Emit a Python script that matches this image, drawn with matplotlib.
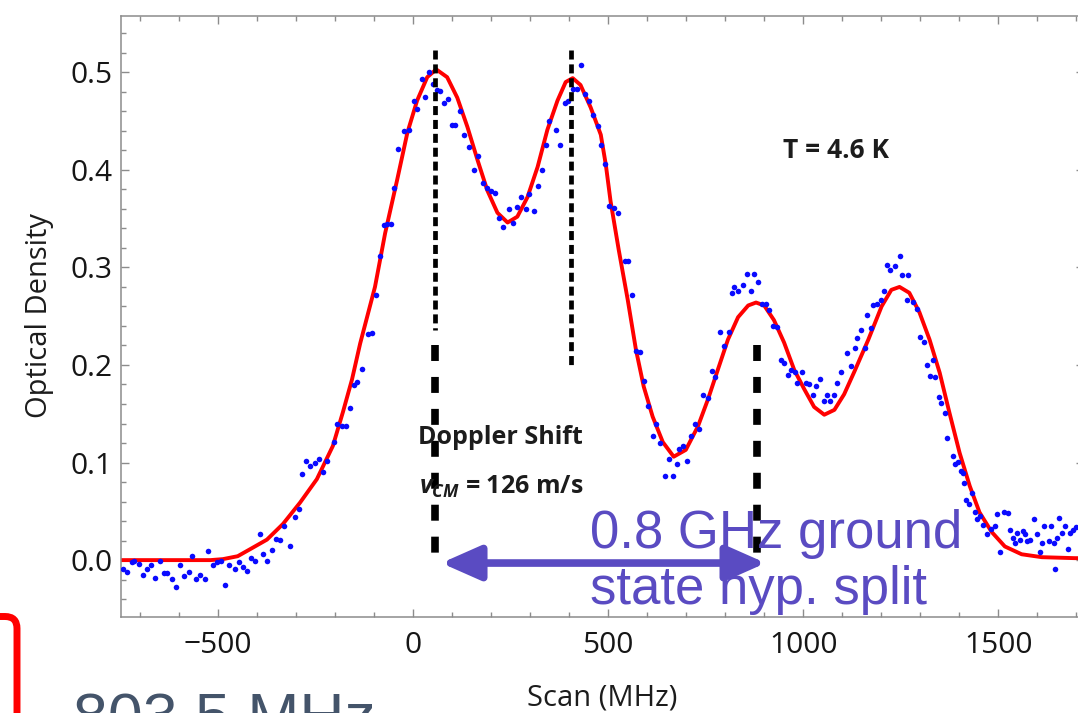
import matplotlib
matplotlib.use("Agg")
import matplotlib.pyplot as plt
from matplotlib.patches import FancyBboxPatch
from matplotlib.transforms import IdentityTransform
from matplotlib.ticker import MultipleLocator, FormatStrFormatter

plt.rcParams['font.family'] = ['Open Sans', 'DejaVu Sans']
plt.rcParams['mathtext.fontset'] = 'custom'
plt.rcParams['mathtext.it'] = 'Open Sans:italic:bold'
plt.rcParams['mathtext.rm'] = 'Open Sans:bold'
plt.rcParams['lines.scale_dashes'] = False

# ---- measured optical density vs. laser scan ----
scan_mhz = [
    -744, -734, -721, -715, -704, -693, -683, -673, -662, -650, -640, -630, -619, -608,
    -599, -587, -576, -567, -556, -546, -535, -525, -514, -503, -493, -482, -473, -458,
    -446, -437, -426, -416, -405, -394, -384, -374, -363, -352, -341, -332, -315, -304,
    -294, -284, -274, -264, -251, -241, -232, -221, -204, -196, -183, -173, -163,
    -153, -143, -132, -115, -106, -95, -85, -76, -66, -57, -48, -38, -23, -12, 1, 9,
    22, 31, 41, 52, 62, 69, 78, 88, 99, 108, 121, 131, 142, 155, 167, 179, 189, 199,
    210, 221, 230, 246, 256, 266, 277, 289, 298, 309, 319, 330, 340, 349, 367, 377,
    388, 398, 410, 420, 430, 441, 452, 461, 473, 482, 491, 503, 514, 524,
    544, 552, 561, 572, 582, 592, 603, 615, 623, 633, 646, 657, 667, 676, 682, 692,
    702, 713, 723, 734, 744, 755, 766, 774, 787, 797, 809, 817, 823, 834, 845, 856,
    866, 874, 885, 894, 904, 913, 922, 934, 943, 950, 960, 969, 979, 985, 997, 1007,
    1016, 1026, 1033, 1044, 1054, 1061, 1069, 1079, 1086, 1097,
    1112, 1122, 1133, 1138, 1148, 1159, 1163, 1174, 1180, 1189, 1199, 1206, 1215, 1223,
    1236, 1247, 1253, 1266, 1270, 1281, 1293, 1300, 1310, 1317, 1326, 1332, 1338, 1347,
    1353, 1364, 1370, 1384, 1390, 1396, 1404, 1409, 1413, 1418, 1424, 1432, 1441, 1445,
    1454, 1462, 1471, 1481, 1492, 1498, 1505, 1514, 1526, 1531, 1538, 1544, 1548, 1556,
    1563, 1569, 1575, 1582, 1591, 1599, 1606, 1612, 1618, 1629, 1635, 1642, 1646, 1650,
    1657, 1663, 1672, 1678, 1685, 1693, 1700,
]
optical_density = [
    -0.009, -0.012, -0.002, -0.001, -0.004, -0.015, -0.009, -0.005, -0.018, -0.001, -0.013, -0.013, -0.019, -0.028,
    -0.005, -0.016, -0.012, 0.004, -0.019, -0.015, -0.019, 0.009, -0.005, -0.002, -0.001, -0.026, -0.005, -0.009,
    -0.002, -0.007, -0.011, 0.002, -0.001, 0.027, 0.006, -0.001, 0.010, 0.022, 0.021, 0.035, 0.014, 0.044,
    0.052, 0.088, 0.102, 0.096, 0.100, 0.104, 0.090, 0.102, 0.121, 0.139, 0.137, 0.137, 0.156,
    0.179, 0.183, 0.196, 0.232, 0.233, 0.272, 0.312, 0.343, 0.345, 0.345, 0.381, 0.421, 0.440, 0.441, 0.471, 0.462,
    0.493, 0.475, 0.500, 0.488, 0.482, 0.481, 0.469, 0.473, 0.446, 0.446, 0.460, 0.436, 0.423, 0.400, 0.414, 0.387, 0.381, 0.378,
    0.376, 0.351, 0.341, 0.360, 0.346, 0.362, 0.372, 0.360, 0.375, 0.358, 0.383, 0.400, 0.425, 0.450, 0.441, 0.425,
    0.469, 0.471, 0.483, 0.483, 0.507, 0.478, 0.471, 0.456, 0.445, 0.425, 0.406, 0.363, 0.361, 0.356,
    0.307, 0.307, 0.272, 0.214, 0.213, 0.184, 0.158, 0.127, 0.139, 0.120, 0.086, 0.104, 0.086, 0.098, 0.114, 0.117,
    0.102, 0.127, 0.139, 0.134, 0.169, 0.166, 0.194, 0.188, 0.234, 0.219, 0.234, 0.274, 0.280, 0.276, 0.282, 0.293,
    0.276, 0.293, 0.285, 0.263, 0.263, 0.256, 0.240, 0.239, 0.205, 0.202, 0.190, 0.195, 0.193, 0.182, 0.193, 0.182,
    0.181, 0.169, 0.178, 0.186, 0.163, 0.169, 0.163, 0.169, 0.182, 0.193,
    0.212, 0.199, 0.217, 0.228, 0.236, 0.217, 0.251, 0.238, 0.261, 0.263, 0.267, 0.276, 0.302, 0.297,
    0.301, 0.312, 0.292, 0.267, 0.292, 0.265, 0.257, 0.229, 0.224, 0.200, 0.189, 0.205, 0.188, 0.167,
    0.161, 0.151, 0.125, 0.107, 0.099, 0.101, 0.091, 0.089, 0.079, 0.062, 0.058, 0.069, 0.049, 0.042,
    0.045, 0.036, 0.027, 0.032, 0.035, 0.047, 0.008, 0.049, 0.048, 0.031, 0.023, 0.018, 0.028, 0.021,
    0.030, 0.027, 0.020, 0.021, 0.042, 0.027, 0.008, 0.018, 0.035, 0.020, 0.035, 0.018, -0.009, 0.023,
    0.043, 0.028, 0.035, 0.011, 0.028, 0.031, 0.034,
]

# ---- fitted spectrum ----
fit_mhz = [
    -750, -600, -520, -488, -450, -419, -375, -334, -290, -247,
    -206, -180, -157, -136, -98, -72, -41, -15, 10, 36,
    59, 87, 113, 139, 165, 190, 216, 242, 267, 293,
    319, 344, 370, 391, 409, 429, 455, 481, 494, 506,
    527, 550, 571, 591, 614, 640, 668, 699, 730, 756,
    781, 807, 833, 859, 879, 900, 925, 951, 977, 1003,
    1028, 1054, 1080, 1105, 1131, 1167, 1201, 1226, 1247, 1272,
    1298, 1324, 1350, 1375, 1401, 1427, 1452, 1483, 1517, 1560,
    1612, 1697, 1750,
]
fit_od = [
    0, 0, 0, 0.001, 0.004, 0.011, 0.021, 0.037, 0.059, 0.083,
    0.117, 0.152, 0.185, 0.222, 0.280, 0.335, 0.390, 0.438, 0.471, 0.495,
    0.503, 0.495, 0.474, 0.444, 0.410, 0.379, 0.356, 0.346, 0.352, 0.372,
    0.403, 0.441, 0.471, 0.490, 0.494, 0.487, 0.464, 0.436, 0.405, 0.368,
    0.318, 0.267, 0.216, 0.178, 0.147, 0.121, 0.106, 0.113, 0.137, 0.165,
    0.195, 0.226, 0.249, 0.261, 0.264, 0.261, 0.246, 0.223, 0.195, 0.175,
    0.157, 0.149, 0.154, 0.170, 0.193, 0.226, 0.260, 0.277, 0.280, 0.274,
    0.254, 0.226, 0.192, 0.151, 0.110, 0.076, 0.049, 0.029, 0.014, 0.006,
    0.003, 0.002, 0.002,
]

# peak markers: (position, top, bottom)
peak_lines = [(56, 0.523, 0.236), (405, 0.523, 0.200)]
shift_lines = [(56, 0.220, 0.007), (882, 0.220, 0.007)]
split_arrow = (72, 904, -0.003)

W, H = 1078, 713
purple = '#5a4bc2'
frame_gray = '#8c8c8c'

fig = plt.figure(figsize=(W / 100, H / 100), dpi=100)
ax = fig.add_axes([120.7 / W, (H - 616.7) / H, (1084 - 120.7) / W, (616.7 - 15.7) / H])
ax.set_xlim(-750, 1720)
ax.set_ylim(-0.058, 0.558)

ax.plot(fit_mhz, fit_od, color='#ff0000', lw=2.8, zorder=2, solid_joinstyle='round')
ax.plot(scan_mhz, optical_density, 'o', color='#0a0aff', ms=4.0, mec='none', zorder=3)

for x, y0, y1 in peak_lines:
    ax.plot([x, x], [y0, y1], color='black', lw=3.4, dashes=(6.5, 3.5), zorder=5,
            dash_capstyle='butt')
for x, y0, y1 in shift_lines:
    ax.plot([x, x], [y0, y1], color='black', lw=5.5, dashes=(11.5, 11.5), zorder=5,
            dash_capstyle='butt')

x0, x1, ya = split_arrow
ax.annotate('', xy=(x0, ya), xytext=(x1, ya),
            arrowprops=dict(arrowstyle='<|-|>,head_length=0.95,head_width=0.42',
                            color=purple, lw=5.5, mutation_scale=25,
                            shrinkA=0, shrinkB=0), zorder=6)

# frame and ticks
for side in ax.spines.values():
    side.set_color(frame_gray)
    side.set_linewidth(1.1)
ax.xaxis.set_major_locator(MultipleLocator(500))
ax.xaxis.set_minor_locator(MultipleLocator(100))
ax.yaxis.set_major_locator(MultipleLocator(0.1))
ax.yaxis.set_minor_locator(MultipleLocator(0.02))
ax.yaxis.set_major_formatter(FormatStrFormatter('%.1f'))
ax.tick_params(which='both', direction='in', top=True, right=True,
               color=frame_gray, width=1.0, labelsize=21.5, labelcolor='#161616')
ax.tick_params(which='major', length=5.5)
ax.tick_params(which='minor', length=3.3)
ax.tick_params(axis='y', pad=6)
ax.tick_params(axis='x', pad=10)

txt = '#1c1c1c'
fig.text(40 / W, 1 - 315 / H, 'Optical Density', rotation=90, ha='center', va='center',
         fontsize=21, color=txt)
fig.text(602 / W, 1 - 698 / H, 'Scan (MHz)', ha='center', va='center', fontsize=21, color=txt)
fig.text(836 / W, 1 - 150 / H, 'T = 4.6 K', ha='center', va='center', fontsize=19,
         fontweight='bold', color=txt)
fig.text(500 / W, 1 - 438 / H, 'Doppler Shift', ha='center', va='center', fontsize=18,
         fontweight='bold', color=txt)
fig.text(501 / W, 1 - 487 / H, r'$\mathit{v}_{\mathit{CM}}$ = 126 m/s', ha='center',
         va='center', fontsize=18, fontweight='bold', color=txt)

fig.text(590 / W, 1 - 548 / H, '0.8 GHz ground', ha='left', va='baseline', fontsize=38,
         family='Liberation Sans', color=purple, zorder=7)
fig.text(590 / W, 1 - 604 / H, 'state hyp. split', ha='left', va='baseline', fontsize=38,
         family='Liberation Sans', color=purple, zorder=7)

# slide elements around the plot
box = FancyBboxPatch((-100, -100), 117, 196.5, boxstyle='round,pad=0,rounding_size=12',
                     transform=IdentityTransform(), fill=False, edgecolor='#ff0000', lw=5.0)
fig.add_artist(box)
fig.text(73 / W, (H - 737) / H, '803.5 MHz', ha='left', va='baseline', fontsize=45,
         family='Liberation Sans', color='#44546a')

fig.savefig('out.png', dpi=100)
